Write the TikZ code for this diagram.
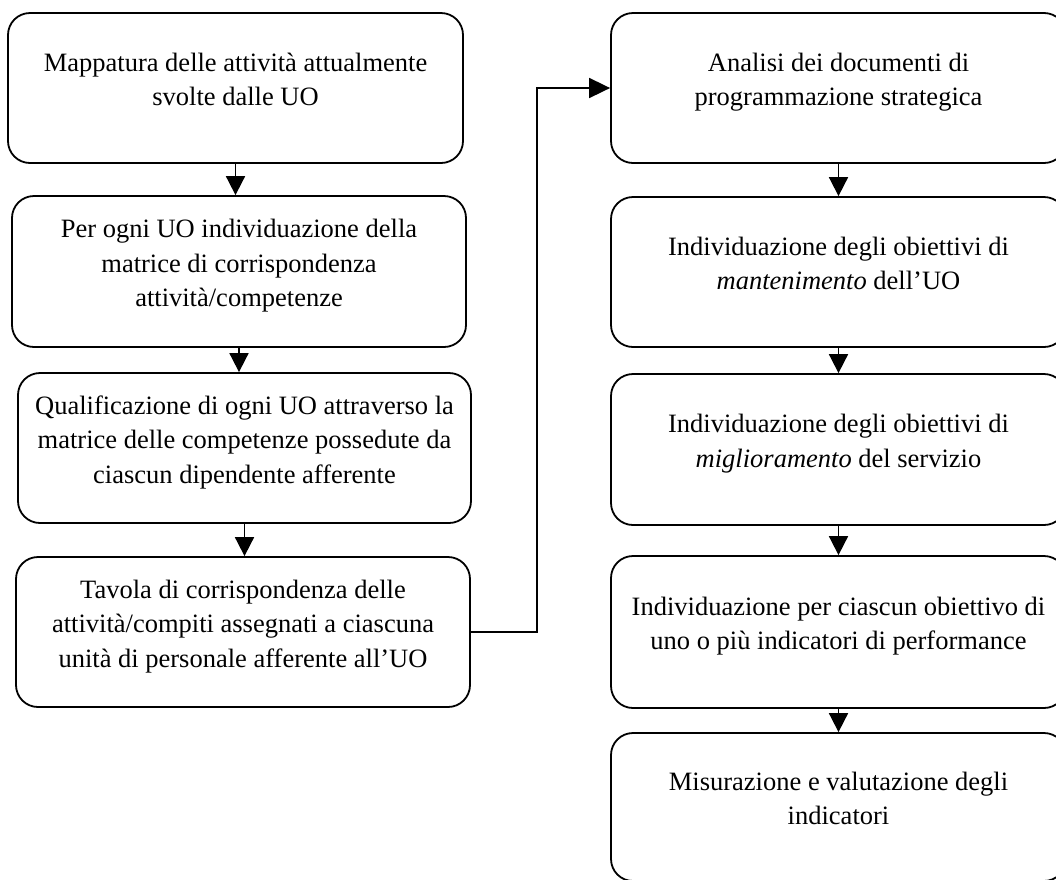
\documentclass[tikz,border=0pt]{standalone}
\usepackage{fontspec}
\setmainfont{Liberation Serif}
\usetikzlibrary{arrows.meta}
\newcommand{\boxgap}{\rule[-17pt]{0pt}{0pt}}
\tikzset{
  every node/.style={font=\fontsize{26.5}{34.5}\selectfont, text=black},
  stepbox/.style={draw, line width=1.8pt, rounded corners=22pt, align=center, inner sep=0pt, minimum width=455pt, minimum height=150pt},
  flow/.style={-{Triangle[length=19pt,width=19pt]}, line width=1.8pt},
}

\begin{document}
\begin{tikzpicture}[x=1pt,y=-1pt]
  \path[use as bounding box, fill=white] (0,0) rectangle (1056,879);
  \clip (0,0) rectangle (1056,879);

  % Left column: activities and competences of the UO
  \node[stepbox] (mapping) at (235.5,88) {Mappatura delle attività attualmente\\ svolte dalle UO\boxgap};
  \node[stepbox, minimum width=454pt, minimum height=151pt] (matching) at (239,271.5) {Per ogni UO individuazione della\\ matrice di corrispondenza\\ attività/competenze\boxgap};
  \node[stepbox, minimum width=453pt] (skills) at (244.5,448) {Qualificazione di ogni UO attraverso la\\ matrice delle competenze possedute da\\ ciascun dipendente afferente\boxgap};
  \node[stepbox, minimum width=454pt] (tasks) at (243,632) {Tavola di corrispondenza delle\\ attività/compiti assegnati a ciascuna\\ unità di personale afferente all’UO\boxgap};

  % Right column: objectives and indicators
  \node[stepbox] (analysis) at (838.5,88) {Analisi dei documenti di\\ programmazione strategica\boxgap};
  \node[stepbox] (keeping) at (838.5,272) {Individuazione degli obiettivi di\\ \textit{mantenimento} dell’UO\boxgap};
  \node[stepbox, minimum height=151pt] (improving) at (838.5,449.5) {Individuazione degli obiettivi di\\ \textit{miglioramento} del servizio\boxgap};
  \node[stepbox, minimum height=152pt] (indicators) at (838.5,632) {Individuazione per ciascun obiettivo di\\ uno o più indicatori di performance\boxgap};
  \node[stepbox, minimum height=148pt] (measuring) at (838.5,807) {Misurazione e valutazione degli\\ indicatori\boxgap};

  % Arrows down each column
  \draw[flow] (mapping.south) -- (mapping.south |- matching.north);
  \draw[flow] (matching.south) -- (matching.south |- skills.north);
  \draw[flow] (skills.south) -- (skills.south |- tasks.north);
  \draw[flow] (analysis.south) -- (keeping.north);
  \draw[flow] (keeping.south) -- (improving.north);
  \draw[flow] (improving.south) -- (indicators.north);
  \draw[flow] (indicators.south) -- (measuring.north);

  % Link from the last left box to the top right box
  \draw[flow, -{Triangle[length=21pt,width=20pt]}] (tasks.east) -- ++(66,0) |- (analysis.west);
\end{tikzpicture}
\end{document}
